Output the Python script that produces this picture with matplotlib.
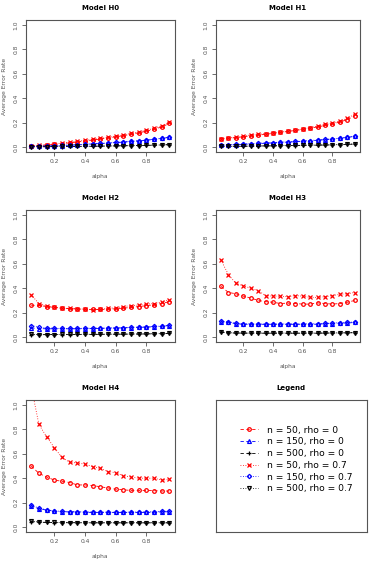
import numpy as np
import matplotlib.pyplot as plt
from matplotlib.lines import Line2D

alpha = [0.05, 0.10, 0.15, 0.20, 0.25, 0.30, 0.35, 0.40, 0.45, 0.50,
         0.55, 0.60, 0.65, 0.70, 0.75, 0.80, 0.85, 0.90, 0.95]

labels = ["n = 50, rho = 0", "n = 150, rho = 0", "n = 500, rho = 0",
          "n = 50, rho = 0.7", "n = 150, rho = 0.7", "n = 500, rho = 0.7"]

# error rates per model, series order as in labels
h0 = [
    [0.010, 0.013, 0.017, 0.022, 0.028, 0.035, 0.042, 0.050, 0.058, 0.066, 0.075, 0.084, 0.094, 0.105, 0.117, 0.130, 0.146, 0.165, 0.195],
    [0.005, 0.007, 0.009, 0.011, 0.013, 0.016, 0.019, 0.022, 0.026, 0.029, 0.033, 0.037, 0.041, 0.046, 0.051, 0.057, 0.063, 0.071, 0.080],
    [0.002, 0.003, 0.003, 0.004, 0.004, 0.005, 0.006, 0.006, 0.007, 0.008, 0.009, 0.010, 0.011, 0.012, 0.013, 0.014, 0.016, 0.018, 0.020],
    [0.012, 0.015, 0.020, 0.026, 0.032, 0.040, 0.047, 0.055, 0.063, 0.071, 0.080, 0.090, 0.100, 0.112, 0.124, 0.138, 0.154, 0.175, 0.205],
    [0.006, 0.008, 0.010, 0.012, 0.014, 0.017, 0.020, 0.023, 0.027, 0.030, 0.034, 0.038, 0.042, 0.047, 0.052, 0.058, 0.064, 0.072, 0.082],
    [0.002, 0.003, 0.003, 0.004, 0.005, 0.005, 0.006, 0.007, 0.007, 0.008, 0.009, 0.010, 0.011, 0.012, 0.013, 0.015, 0.016, 0.018, 0.021],
]
h1 = [
    [0.065, 0.072, 0.078, 0.085, 0.092, 0.098, 0.105, 0.112, 0.120, 0.128, 0.136, 0.145, 0.155, 0.165, 0.177, 0.190, 0.205, 0.225, 0.255],
    [0.015, 0.018, 0.020, 0.023, 0.026, 0.029, 0.032, 0.035, 0.038, 0.041, 0.044, 0.048, 0.052, 0.056, 0.061, 0.066, 0.072, 0.079, 0.088],
    [0.005, 0.006, 0.007, 0.007, 0.008, 0.009, 0.010, 0.010, 0.011, 0.012, 0.013, 0.014, 0.015, 0.016, 0.017, 0.018, 0.020, 0.022, 0.025],
    [0.070, 0.075, 0.080, 0.088, 0.100, 0.105, 0.110, 0.118, 0.122, 0.130, 0.138, 0.148, 0.160, 0.172, 0.185, 0.198, 0.212, 0.235, 0.270],
    [0.017, 0.019, 0.022, 0.025, 0.028, 0.031, 0.034, 0.037, 0.040, 0.043, 0.046, 0.050, 0.054, 0.058, 0.063, 0.068, 0.074, 0.081, 0.090],
    [0.006, 0.006, 0.007, 0.008, 0.009, 0.009, 0.010, 0.011, 0.012, 0.013, 0.014, 0.015, 0.016, 0.017, 0.018, 0.019, 0.021, 0.023, 0.026],
]
h2 = [
    [0.260, 0.260, 0.250, 0.243, 0.237, 0.233, 0.230, 0.228, 0.226, 0.226, 0.228, 0.232, 0.237, 0.243, 0.250, 0.257, 0.265, 0.275, 0.290],
    [0.075, 0.070, 0.068, 0.068, 0.068, 0.068, 0.068, 0.069, 0.070, 0.071, 0.073, 0.074, 0.076, 0.078, 0.080, 0.082, 0.085, 0.088, 0.095],
    [0.020, 0.020, 0.020, 0.021, 0.021, 0.021, 0.022, 0.022, 0.022, 0.023, 0.023, 0.024, 0.024, 0.025, 0.025, 0.026, 0.027, 0.028, 0.030],
    [0.345, 0.275, 0.255, 0.245, 0.235, 0.235, 0.232, 0.228, 0.225, 0.228, 0.235, 0.240, 0.250, 0.258, 0.262, 0.270, 0.275, 0.288, 0.305],
    [0.095, 0.080, 0.075, 0.072, 0.071, 0.071, 0.071, 0.072, 0.073, 0.074, 0.075, 0.076, 0.078, 0.080, 0.082, 0.084, 0.087, 0.090, 0.097],
    [0.022, 0.021, 0.021, 0.021, 0.022, 0.022, 0.022, 0.023, 0.023, 0.023, 0.024, 0.024, 0.025, 0.025, 0.026, 0.027, 0.028, 0.029, 0.031],
]
h3 = [
    [0.415, 0.365, 0.355, 0.335, 0.320, 0.300, 0.290, 0.285, 0.275, 0.278, 0.275, 0.270, 0.270, 0.280, 0.275, 0.270, 0.275, 0.285, 0.300],
    [0.125, 0.120, 0.110, 0.105, 0.105, 0.105, 0.105, 0.105, 0.105, 0.105, 0.105, 0.105, 0.105, 0.105, 0.110, 0.110, 0.115, 0.115, 0.120],
    [0.040, 0.035, 0.033, 0.033, 0.032, 0.032, 0.032, 0.032, 0.032, 0.032, 0.032, 0.032, 0.032, 0.032, 0.033, 0.033, 0.034, 0.035, 0.036],
    [0.630, 0.510, 0.440, 0.420, 0.400, 0.380, 0.340, 0.335, 0.335, 0.330, 0.340, 0.335, 0.325, 0.325, 0.330, 0.340, 0.350, 0.355, 0.365],
    [0.130, 0.125, 0.115, 0.110, 0.108, 0.107, 0.107, 0.107, 0.107, 0.108, 0.108, 0.108, 0.109, 0.110, 0.112, 0.115, 0.118, 0.120, 0.125],
    [0.042, 0.036, 0.034, 0.033, 0.033, 0.033, 0.033, 0.033, 0.033, 0.033, 0.033, 0.033, 0.033, 0.033, 0.034, 0.034, 0.035, 0.036, 0.037],
]
h4 = [
    [0.500, 0.440, 0.410, 0.385, 0.375, 0.365, 0.345, 0.345, 0.340, 0.330, 0.320, 0.310, 0.305, 0.300, 0.300, 0.300, 0.298, 0.295, 0.295],
    [0.175, 0.150, 0.140, 0.130, 0.125, 0.125, 0.125, 0.122, 0.120, 0.120, 0.120, 0.120, 0.120, 0.120, 0.120, 0.120, 0.122, 0.125, 0.125],
    [0.045, 0.040, 0.038, 0.037, 0.036, 0.036, 0.036, 0.035, 0.035, 0.035, 0.035, 0.035, 0.035, 0.035, 0.035, 0.035, 0.035, 0.035, 0.035],
    [1.150, 0.840, 0.740, 0.650, 0.570, 0.530, 0.525, 0.515, 0.495, 0.480, 0.455, 0.445, 0.420, 0.410, 0.400, 0.400, 0.400, 0.385, 0.390],
    [0.180, 0.155, 0.142, 0.133, 0.128, 0.126, 0.125, 0.124, 0.123, 0.122, 0.122, 0.122, 0.122, 0.123, 0.124, 0.125, 0.127, 0.129, 0.130],
    [0.048, 0.042, 0.039, 0.038, 0.037, 0.037, 0.036, 0.036, 0.036, 0.036, 0.036, 0.036, 0.036, 0.036, 0.036, 0.036, 0.036, 0.036, 0.036],
]

models = ["Model H0", "Model H1", "Model H2", "Model H3", "Model H4"]
data = [h0, h1, h2, h3, h4]

colors = ["red", "blue", "black", "red", "blue", "black"]
markers = ["o", "^", "+", "x", "D", "v"]
styles = [(0, (4, 3)), (0, (4, 3)), (0, (4, 3)), (0, (1, 2)), (0, (1, 2)), (0, (1, 2))]
msizes = [2.6, 2.8, 3.4, 2.6, 2.2, 2.8]

frame = "#555555"
tick_col = "#555555"

fig = plt.figure(figsize=(3.71, 5.66), dpi=100)

W, H = 371.0, 566.0
boxes = [(25.7, 20, 175, 152), (215.7, 20, 360, 152),
         (25.7, 210, 175, 342), (215.7, 210, 360, 342),
         (25.7, 400, 175, 532)]


def make_ax(b):
    x0, y0, x1, y1 = b
    return fig.add_axes([x0 / W, 1 - y1 / H, (x1 - x0) / W, (y1 - y0) / H])


for i in range(5):
    ax = make_ax(boxes[i])
    for k in range(6):
        ax.plot(alpha, data[i][k], color=colors[k], linestyle=styles[k],
                linewidth=0.6, marker=markers[k], markersize=msizes[k],
                markerfacecolor="none", markeredgewidth=0.9,
                dash_capstyle="butt")
    ax.set_xlim(0.014, 0.986)
    ax.set_ylim(-0.04, 1.04)
    ax.set_xticks([0.2, 0.4, 0.6, 0.8])
    ax.set_xticklabels(["0.2", "0.4", "0.6", "0.8"])
    ax.set_yticks([0.0, 0.2, 0.4, 0.6, 0.8, 1.0])
    ax.set_yticklabels(["0.0", "0.2", "0.4", "0.6", "0.8", "1.0"],
                       rotation=90, va="center")
    ax.tick_params(direction="out", length=3, width=0.6, colors=frame,
                   labelsize=4.3, labelcolor=tick_col, pad=2)
    for s in ax.spines.values():
        s.set_color(frame)
        s.set_linewidth(0.8)
    ax.set_title(models[i], fontsize=5, fontweight="bold", pad=7)
    ax.set_xlabel("alpha", fontsize=4.3, color=tick_col, labelpad=7)
    ax.set_ylabel("Average Error Rate", fontsize=4.3, color=tick_col, labelpad=5)

# legend panel
lax = make_ax((215.7, 400, 366.7, 532))
lax.set_xticks([])
lax.set_yticks([])
for s in lax.spines.values():
    s.set_color(frame)
    s.set_linewidth(0.8)
lax.set_title("Legend", fontsize=5, fontweight="bold", pad=7)

handles = []
for k in range(6):
    handles.append(Line2D([], [], color=colors[k], linestyle=styles[k],
                          linewidth=0.6, marker=markers[k], markersize=msizes[k],
                          markerfacecolor="none", markeredgewidth=0.9))
lax.legend(handles, labels, loc="upper left", bbox_to_anchor=(0.13, 0.84),
           frameon=False, fontsize=6.6, handlelength=2.0, handletextpad=1.0,
           labelspacing=0.3, borderpad=0)

fig.savefig("out.png", dpi=100)
